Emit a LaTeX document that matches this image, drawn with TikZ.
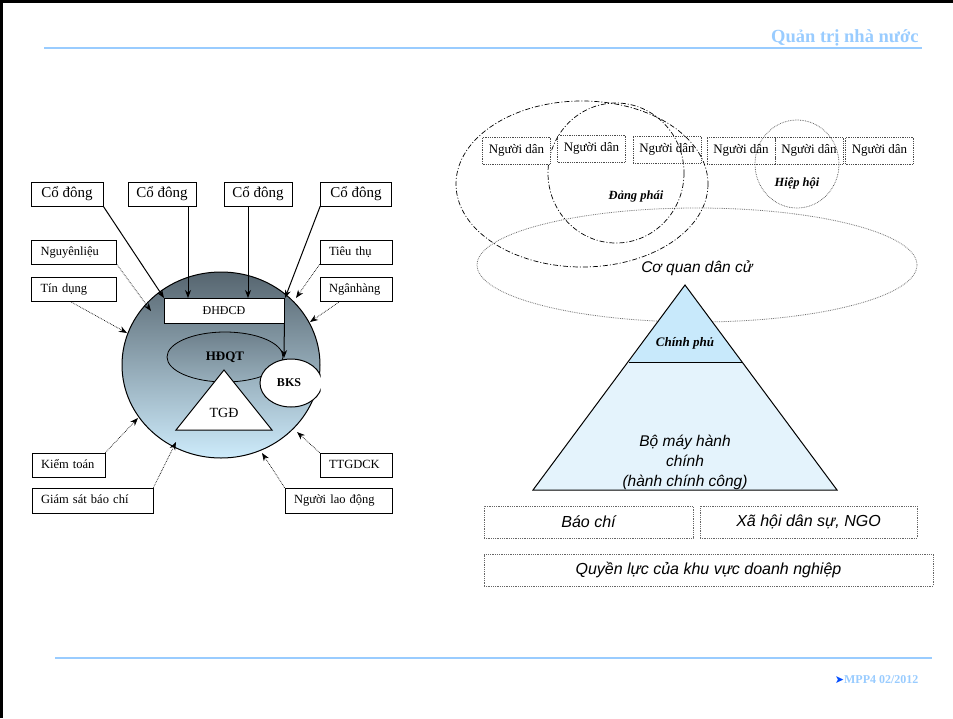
\documentclass[tikz,border=0pt]{standalone}
\usepackage{fontspec}
\setmainfont{Liberation Serif}
\newfontfamily\arialf{Liberation Sans}
\newfontfamily\djv{DejaVu Sans}
\usetikzlibrary{arrows.meta,shapes.geometric}
\definecolor{hdrblue}{HTML}{99CCFF}
\definecolor{topgray}{HTML}{56656F}
\definecolor{botblue}{HTML}{CDEBFB}
\definecolor{pyrlight}{HTML}{E4F3FC}
\definecolor{pyrtop}{HTML}{C8E9FB}
\tikzset{
  lbox/.style={draw=black, line width=0.7pt, fill=white, inner xsep=9pt, inner ysep=0pt, align=left, text height=9pt, text depth=3pt, font=\fontsize{12.5}{13}\selectfont},
  cbox/.style={draw=black, line width=0.7pt, fill=white, inner sep=0pt, text height=10.5pt, text depth=3.5pt, font=\fontsize{15}{16}\selectfont},
  pbox/.style={draw=black!70, densely dotted, line width=0.8pt, fill=white, inner sep=0pt, text height=9pt, text depth=3pt, font=\fontsize{13}{14}\selectfont},
  rbox/.style={draw=black!60, densely dotted, line width=0.8pt, inner sep=0pt, font=\arialf\itshape\fontsize{16}{17}\selectfont},
  solidarr/.style={line width=1pt, -{Stealth[length=8pt,width=6pt]}},
  dotarr/.style={densely dotted, line width=0.7pt, -{Stealth[length=8pt,width=6pt]}},
  dashdot/.style={line width=0.7pt, dash pattern=on 5pt off 2pt on 1pt off 2pt},
}
\begin{document}
\begin{tikzpicture}[x=1pt,y=-1pt]
\useasboundingbox (0,0) rectangle (953,718);
\fill[white] (0,0) rectangle (953,718);
% frame
\draw[line width=3pt] (1.5,718) -- (1.5,1.5) -- (953,1.5);
% header
\draw[hdrblue, line width=2pt] (44,48) -- (922,48);
\node[anchor=east, text=hdrblue, font=\bfseries\fontsize{18.5}{19}\selectfont] (hdr) at (922,38) {Quản trị nhà nước};
% footer
\draw[hdrblue, line width=2pt] (55,658) -- (932,658);
\node[anchor=east, text=hdrblue, font=\bfseries\fontsize{12}{13}\selectfont] (ftr) at (922,680) {{\djv\fontsize{11}{12}\selectfont\textcolor{blue!70!cyan}{➤}}MPP4 02/2012};

% ===== LEFT DIAGRAM =====
\node[ellipse, minimum width=198pt, minimum height=186pt, draw=black, line width=1pt, top color=topgray, bottom color=botblue, inner sep=0pt] (circ) at (221,365) {};
\node[draw=black, line width=0.8pt, fill=white, minimum width=120pt, minimum height=25pt, inner sep=0pt, font=\fontsize{12}{13}\selectfont] (dh) at (224,310.5) {ĐHĐCĐ};
\node[ellipse, minimum width=116pt, minimum height=50pt, draw=black, line width=0.8pt, top color=topgray!80!botblue, bottom color=topgray!45!botblue, inner sep=0pt, font=\bfseries\fontsize{13}{14}\selectfont] (hd) at (225,357) {HĐQT};
\draw[fill=white, line width=1pt] (224,370) -- (272,430) -- (176,430) -- cycle;
\node[font=\fontsize{14}{15}\selectfont] (tgd) at (224,413) {TGĐ};
\begin{scope}
\clip (240,340) rectangle (320.5,420);
\draw[fill=white, line width=1pt] (291,383) ellipse [x radius=31, y radius=24];
\end{scope}
\node[font=\bfseries\fontsize{12}{13}\selectfont] (bks) at (289,383) {BKS};
\coordinate (bkstop) at (284,358);

% Co dong boxes
\node[cbox, minimum width=72pt, minimum height=24pt] (c1) at (67,194) {Cổ đông};
\node[cbox, minimum width=68pt, minimum height=24pt] (c2) at (162,194) {Cổ đông};
\node[cbox, minimum width=68pt, minimum height=24pt] (c3) at (258,194) {Cổ đông};
\node[cbox, minimum width=71pt, minimum height=24pt] (c4) at (356,194) {Cổ đông};
\coordinate (t1) at (164,298);
\coordinate (t2) at (188,298);
\coordinate (t3) at (248,298);
\coordinate (t4) at (285,298);
\draw[solidarr] (c1.south east) -- (t1);
\draw[solidarr] (c2.south -| t2) -- (t2);
\draw[solidarr] (c3.south -| t3) -- (t3);
\draw[solidarr] (c4.south west) -- (t4);
\draw[solidarr] (dh.south east) -- (bkstop);

% side boxes
\node[lbox, text width=67pt, minimum height=24pt] (ng) at (74,252) {Nguyênliệu};
\node[lbox, text width=67pt, minimum height=24pt] (td) at (74,289) {Tín dụng};
\node[lbox, text width=54pt, minimum height=24pt] (tt) at (356,252) {Tiêu thụ};
\node[lbox, text width=54pt, minimum height=24pt] (nh) at (356,289) {Ngânhàng};
\node[lbox, text width=55pt, minimum height=24pt] (kt) at (68.5,465) {Kiểm toán};
\node[lbox, text width=103pt, minimum height=25pt] (gs) at (92.5,500.5) {Giám sát báo chí};
\node[lbox, text width=54pt, minimum height=24pt] (tg) at (356,465) {TTGDCK};
\node[lbox, text width=89pt, minimum height=25pt] (nl) at (338.5,500.5) {Người lao động};

\coordinate (a1) at (151,311);
\coordinate (a2) at (127,333);
\coordinate (a3) at (296,298);
\coordinate (a4) at (310,322);
\coordinate (a5) at (138,418);
\coordinate (a6) at (176,442);
\coordinate (a7) at (297,432);
\coordinate (a8) at (262,453);
\draw[dotarr] (ng.south east) -- (a1);
\draw[dotarr] ([xshift=-4pt]td.south) -- (a2);
\draw[dotarr] (tt.south west) -- (a3);
\draw[dotarr] ([xshift=-16pt]nh.south) -- (a4);
\draw[dotarr] (kt.north east) -- (a5);
\draw[dotarr] (gs.north east) -- (a6);
\draw[dotarr] (tg.north west) -- (a7);
\draw[dotarr] (nl.north west) -- (a8);

% ===== RIGHT DIAGRAM =====
% Co quan dan cu
\node[ellipse, minimum width=440pt, minimum height=114pt, draw=black!55, densely dotted, line width=0.8pt, inner sep=0pt] (cq) at (697,265) {};
% pyramid
\coordinate (apex) at (685,285);
\coordinate (bl) at (533,490);
\coordinate (br) at (837,490);
\coordinate (ml) at (629,362);
\coordinate (mr) at (742,362);
\fill[pyrlight] (ml) -- (mr) -- (br) -- (bl) -- cycle;
\fill[pyrtop] (apex) -- (mr) -- (ml) -- cycle;
\draw[line width=1pt] (apex) -- (br) -- (bl) -- cycle;
\draw[line width=1pt] (ml) -- (mr);
\node[font=\bfseries\itshape\fontsize{13}{14}\selectfont] (cp) at (685,343) {Chính phủ};
\node[align=center, font=\arialf\itshape\fontsize{15.5}{20}\selectfont] (bm) at (685,462) {Bộ máy hành\\chính\\(hành chính công)};
% ellipses
\draw[dashdot] (582,184) ellipse [x radius=126, y radius=83];
\draw[dashdot] (616,173) ellipse [x radius=68, y radius=70];
\draw[densely dotted, black!70, line width=0.7pt] (797,164) ellipse [x radius=42, y radius=44];
% nguoi dan boxes
\node[pbox, minimum width=68pt, minimum height=27pt] (p1) at (516.5,150.5) {Người dân};
\node[pbox, minimum width=68pt, minimum height=27pt] (p2) at (591.5,148.5) {Người dân};
\node[pbox, fill=none, minimum width=68pt, minimum height=27pt] (p3) at (667,149.5) {Người dân};
\node[pbox, fill=none, minimum width=68pt, minimum height=27pt] (p4) at (741,150.5) {Người dân};
\node[pbox, fill=none, minimum width=68pt, minimum height=27pt] (p5) at (809,150.5) {Người dân};
\node[pbox, minimum width=68pt, minimum height=27pt] (p6) at (879.5,150.5) {Người dân};
\node[font=\bfseries\itshape\fontsize{12.5}{13}\selectfont] (dp) at (636,196) {Đảng phái};
\node[font=\bfseries\itshape\fontsize{12.5}{13}\selectfont] (hh) at (797,183) {Hiệp hội};
\node[font=\arialf\itshape\fontsize{15.5}{16}\selectfont] (cqt) at (697,268) {Cơ quan dân cử};
% bottom boxes
\node[rbox, minimum width=209pt, minimum height=32pt] (bc) at (588.5,522) {Báo chí};
\node[rbox, minimum width=217pt, minimum height=32pt] (xh) at (808.5,522) {Xã hội dân sự, NGO};
\node[rbox, minimum width=449pt, minimum height=32pt] (ql) at (708.5,570) {Quyền lực của khu vực doanh nghiệp};
\end{tikzpicture}
\end{document}
